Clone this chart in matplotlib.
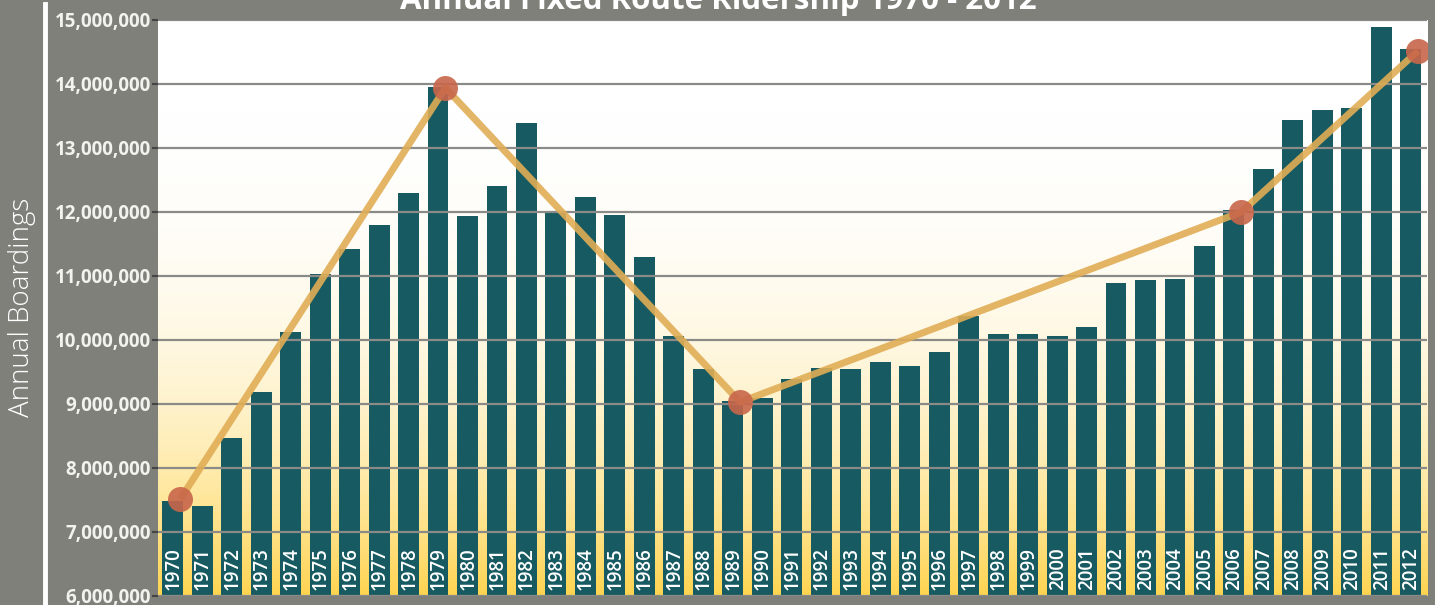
import numpy as np
import matplotlib
matplotlib.use("Agg")
import matplotlib.pyplot as plt
from matplotlib.colors import LinearSegmentedColormap

years = list(range(1970, 2013))
boardings = [7.48, 7.41, 8.47, 9.19, 10.12, 11.03, 11.42, 11.79, 12.29, 13.95,
             11.93, 12.40, 13.39, 12.01, 12.23, 11.95, 11.29, 10.06, 9.54, 9.05,
             9.09, 9.39, 9.56, 9.55, 9.65, 9.59, 9.81, 10.37, 10.09, 10.10,
             10.06, 10.20, 10.89, 10.93, 10.96, 11.47, 12.03, 12.67, 13.44, 13.59,
             13.62, 14.89, 14.55]
boardings = [v * 1e6 for v in boardings]

trend_years = [1970, 1979, 1989, 2006, 2012]
trend_values = [7.51e6, 13.94e6, 9.03e6, 12.0e6, 14.52e6]

ytick_vals = [6e6, 7e6, 8e6, 9e6, 10e6, 11e6, 12e6, 13e6, 14e6, 15e6]

title = "Annual Fixed Route Ridership 1970 - 2012"
ylabel = "Annual Boardings"

BG = "#7f807a"
BAR = "#175a61"
LINE = "#e0ad55"
MARK = "#c8664a"

fig = plt.figure(figsize=(14.35, 6.05), dpi=100)
fig.patch.set_facecolor(BG)
W, H = 1435, 605
left, right, top, bottom = 158, 1427, 20, 596
ax = fig.add_axes([left / W, 1 - bottom / H, (right - left) / W, (bottom - top) / H])

x = np.arange(len(years))
ax.set_xlim(-0.5, len(years) - 1 + 0.55)
ax.set_ylim(6e6, 15e6)

# gradient background
t = np.linspace(0, 1, 256)[:, None]  # 0 top, 1 bottom
cmap = LinearSegmentedColormap.from_list("g", ["#ffffff", "#fed451"])
grad = t ** 3
ax.imshow(grad, aspect="auto", cmap=cmap, vmin=0, vmax=1,
          extent=[-0.5, len(years) - 1 + 0.55, 6e6, 15e6], origin="upper", zorder=0)

ax.set_yticks(ytick_vals)
ax.yaxis.grid(True, color="#8a8a88", lw=1.6, zorder=1)
ax.set_axisbelow(False)

ax.bar(x, boardings, width=0.71, color=BAR, zorder=2)

for xi, yr in zip(x, years):
    ax.text(xi + 0.02, 6.09e6, str(yr), rotation=90, ha="center", va="bottom",
            color="white", fontsize=13.5, family="Open Sans", fontweight=600,
            zorder=3)

tx = [years.index(y) + 0.25 for y in trend_years]
ax.plot(tx, trend_values, color=LINE, lw=5, alpha=0.9, zorder=4,
        solid_capstyle="butt")
ax.plot(tx, trend_values, "o", color=MARK, ms=18, alpha=0.9, mec="none", zorder=5)

ax.set_xticks([])
ax.set_yticklabels([f"{int(v):,}" for v in ytick_vals], fontsize=13.5,
                   fontweight="bold", color="#f2f2ee", family="Open Sans")
ax.tick_params(axis="y", length=4, width=1.5, color="#444444", pad=1)
for s in ax.spines.values():
    s.set_visible(False)

# white divider line
fig.add_artist(plt.Line2D([45 / W, 45 / W], [0, 1 - 4 / H], color="white", lw=3.5,
                          transform=fig.transFigure))

fig.text(22 / W, 1 - 307 / H, ylabel, rotation=90, ha="center", va="center",
         color="white", fontsize=20, family="Open Sans", fontweight="light")

fig.text(718 / W, 1 - 9 / H, title, ha="center", va="baseline", color="white",
         fontsize=22.5, fontweight="bold", family="Open Sans")

fig.savefig("out.png", dpi=100, facecolor=BG)
